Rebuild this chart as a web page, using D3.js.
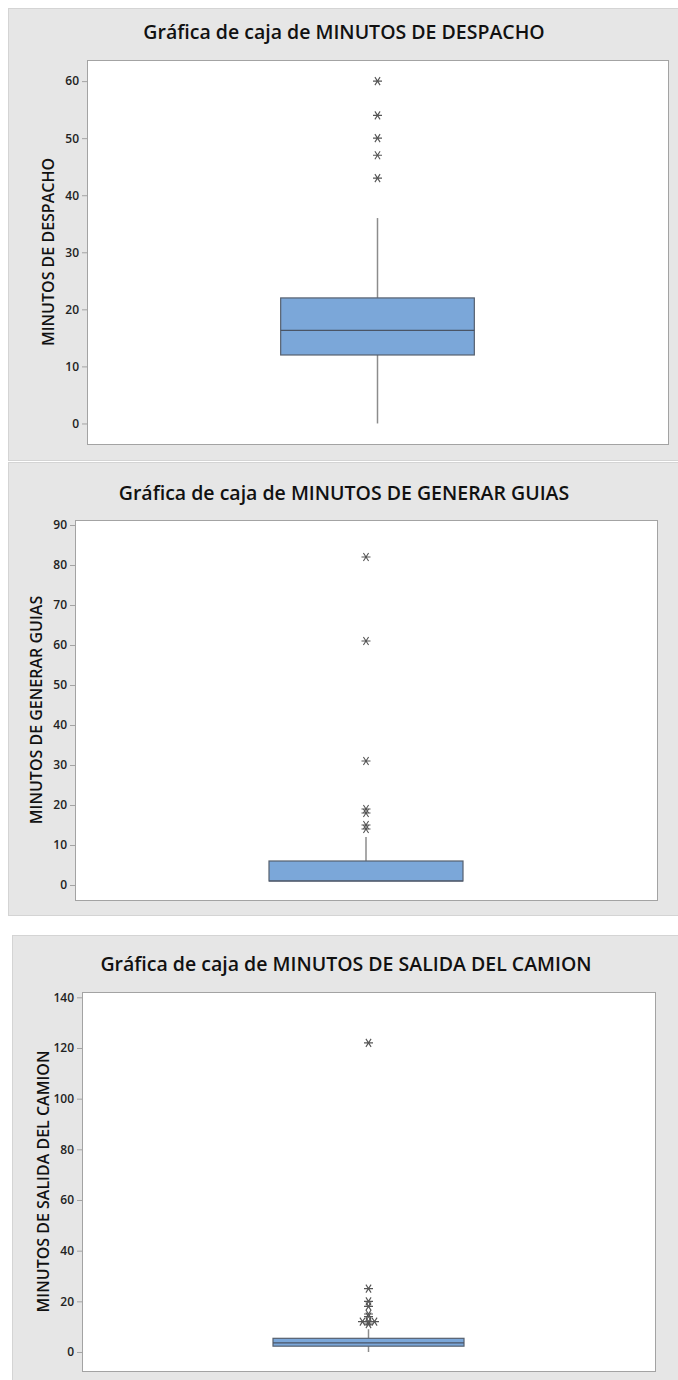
<!DOCTYPE html>
<html>
<head>
<meta charset="utf-8">
<script src="https://cdn.jsdelivr.net/npm/d3@7"></script>
<style>
  body { margin: 0; background: #fff; }
  text { font-family: "Open Sans", "Noto Sans", sans-serif; }
</style>
</head>
<body>
<div id="container"></div>
<script>
// data
const titles = [
    "Gráfica de caja de MINUTOS DE DESPACHO",
    "Gráfica de caja de MINUTOS DE GENERAR GUIAS",
    "Gráfica de caja de MINUTOS DE SALIDA DEL CAMION"
];
const yLabels = ["MINUTOS DE DESPACHO", "MINUTOS DE GENERAR GUIAS", "MINUTOS DE SALIDA DEL CAMION"];
const whiskerLow = [0, 1, 0];
const q1 = [12, 1, 2.3];
const medians = [16.3, 1, 3.6];
const q3 = [22, 6, 5.4];
const whiskerHigh = [36, 12, 9];
const outliers = [
    [43, 47, 50, 54, 60],
    [14, 15, 18, 19, 31, 61, 82],
    [11, 12, 12, 12, 14, 15, 18, 20, 25, 122]
];
const tickValues = [
    [0, 10, 20, 30, 40, 50, 60],
    [0, 10, 20, 30, 40, 50, 60, 70, 80, 90],
    [0, 20, 40, 60, 80, 100, 120, 140]
];

// layout of the three panels
const panels = [
    { x: 8, y: 8, w: 670, h: 452, left: 87, top: 60, right: 668, bottom: 444, domain: [-3.6, 63.7], titleY: 34 },
    { x: 8, y: 462, w: 670, h: 453, left: 75, top: 520, right: 657, bottom: 900, domain: [-3.75, 91.25], titleY: 495 },
    { x: 12, y: 935, w: 666, h: 445, left: 82, top: 992, right: 655, bottom: 1371, domain: [-7.5, 142.1], titleY: 966 }
];

function main() {
    const width = 678, height = 1380;
    const svg = d3.select("#container")
        .append("svg")
        .attr("width", width)
        .attr("height", height);

    panels.forEach((p, i) => drawPanel(svg, p, i));
}

function drawPanel(svg, p, i) {
    const g = svg.append("g");
    g.append("rect")
        .attr("x", p.x + 0.5)
        .attr("y", p.y + 0.5)
        .attr("width", p.w)
        .attr("height", p.h)
        .attr("fill", "#e6e6e6")
        .attr("stroke", "#d4d4d4");

    g.append("rect")
        .attr("x", p.left + 0.5)
        .attr("y", p.top + 0.5)
        .attr("width", p.right - p.left)
        .attr("height", p.bottom - p.top)
        .attr("fill", "#fff")
        .attr("stroke", "#a3a3a3");

    g.append("text")
        .attr("x", (p.x + p.x + p.w) / 2 + 1)
        .attr("y", p.titleY)
        .attr("text-anchor", "middle")
        .attr("dominant-baseline", "middle")
        .attr("font-size", 19.5)
        .attr("font-weight", 600)
        .attr("fill", "#111")
        .text(titles[i]);

    const x = d3.scaleBand()
        .domain([yLabels[i]])
        .range([p.left, p.right])
        .padding(0.5);
    const y = d3.scaleLinear()
        .domain(p.domain)
        .range([p.bottom, p.top]);

    const axis = g.append("g")
        .attr("transform", `translate(${p.left},0)`)
        .call(d3.axisLeft(y).tickValues(tickValues[i]).tickSize(5).tickPadding(3));
    axis.select(".domain").remove();
    axis.selectAll(".tick line").attr("stroke", "#a3a3a3");
    axis.selectAll(".tick text")
        .attr("font-size", 12)
        .attr("font-weight", 600)
        .attr("fill", "#222");

    g.append("text")
        .attr("transform", `translate(${p.left - 37},${(p.top + p.bottom) / 2}) rotate(-90)`)
        .attr("text-anchor", "middle")
        .attr("dominant-baseline", "middle")
        .attr("font-size", 16)
        .attr("font-weight", 600)
        .attr("fill", "#111")
        .text(yLabels[i]);

    const cx = x(yLabels[i]) + x.bandwidth() / 2;

    // whiskers
    g.append("line")
        .attr("x1", cx).attr("x2", cx)
        .attr("y1", y(q3[i])).attr("y2", y(whiskerHigh[i]))
        .attr("stroke", "#8c8c8c")
        .attr("stroke-width", 1.5);
    g.append("line")
        .attr("x1", cx).attr("x2", cx)
        .attr("y1", y(q1[i])).attr("y2", y(whiskerLow[i]))
        .attr("stroke", "#8c8c8c")
        .attr("stroke-width", 1.5);

    // box
    g.append("rect")
        .attr("x", x(yLabels[i]))
        .attr("y", y(q3[i]))
        .attr("width", x.bandwidth())
        .attr("height", y(q1[i]) - y(q3[i]))
        .attr("fill", "#7ba7d9")
        .attr("stroke", "#56606e")
        .attr("stroke-width", 1.2);
    g.append("line")
        .attr("x1", x(yLabels[i])).attr("x2", x(yLabels[i]) + x.bandwidth())
        .attr("y1", y(medians[i])).attr("y2", y(medians[i]))
        .attr("stroke", "#4a5566")
        .attr("stroke-width", 1.2);

    // outliers, equal values set side by side
    const seen = {};
    const pts = outliers[i].map(v => {
        seen[v] = (seen[v] || 0) + 1;
        return { v: v, k: seen[v] - 1 };
    });
    pts.forEach(d => {
        const n = seen[d.v];
        d.dx = (d.k - (n - 1) / 2) * 6;
    });
    g.append("g")
        .selectAll("path")
        .data(pts)
        .join("path")
        .attr("transform", d => `translate(${cx + d.dx},${y(d.v)})`)
        .attr("d", "M-4.5,0H4.5M-2.6,-4L2.6,4M-2.6,4L2.6,-4")
        .attr("fill", "none")
        .attr("stroke", "#555")
        .attr("stroke-width", 1.1);
}

main();
</script>
</body>
</html>
